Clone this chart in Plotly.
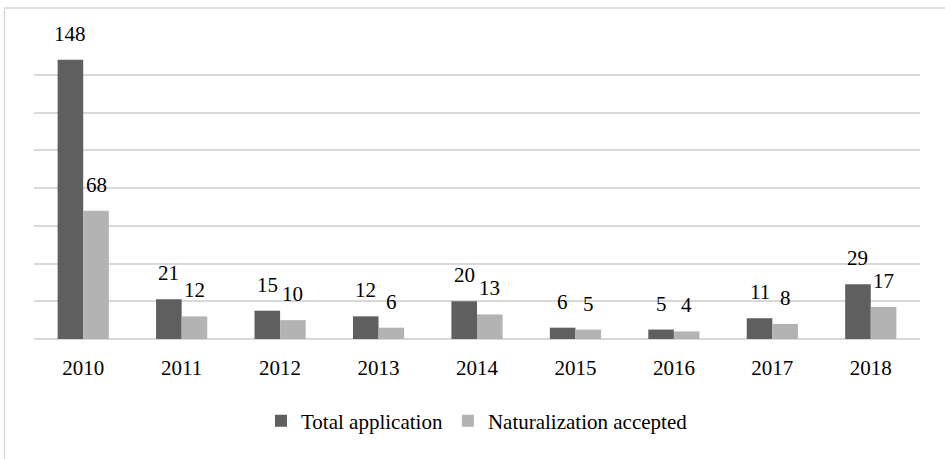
import plotly.graph_objects as go

years = ["2010", "2011", "2012", "2013", "2014", "2015", "2016", "2017", "2018"]
total_application = [148, 21, 15, 12, 20, 6, 5, 11, 29]
naturalization_accepted = [68, 12, 10, 6, 13, 5, 4, 8, 17]

FONT = "Liberation Serif"
DARK = "#5f5f5f"
LIGHT = "#b3b3b3"
GRID = "#d9d9d9"

xpos = list(range(len(years)))

fig = go.Figure()
fig.add_trace(go.Bar(x=xpos, y=total_application, name="Total application",
                     marker=dict(color=DARK, line=dict(width=0))))
fig.add_trace(go.Bar(x=xpos, y=naturalization_accepted, name="Naturalization accepted",
                     marker=dict(color=LIGHT, line=dict(width=0))))

bargap = 0.48
half = (1 - bargap) / 4
for i in xpos:
    fig.add_annotation(x=i - half, y=total_application[i], text=str(total_application[i]),
                       showarrow=False, yanchor="middle", yshift=26,
                       font=dict(family=FONT, size=21, color="black"))
    fig.add_annotation(x=i + half, y=naturalization_accepted[i], text=str(naturalization_accepted[i]),
                       showarrow=False, yanchor="middle", yshift=26,
                       font=dict(family=FONT, size=21, color="black"))

fig.add_shape(type="rect", xref="paper", yref="paper",
              x0=-0.0333, x1=1.2, y0=-0.6, y1=1.0964,
              line=dict(color=GRID, width=1.5), fillcolor="rgba(0,0,0,0)", layer="below")

fig.update_layout(
    width=945, height=459,
    margin=dict(l=34, r=25, t=37, b=119.5),
    paper_bgcolor="white", plot_bgcolor="white",
    barmode="group", bargap=bargap, bargroupgap=0,
    font=dict(family=FONT, size=21, color="black"),
    showlegend=True,
    legend=dict(orientation="h", x=0.5, xanchor="center", y=-0.2715, yanchor="middle",
                font=dict(family=FONT, size=21, color="black"),
                itemwidth=30, traceorder="normal"),
    xaxis=dict(tickmode="array", tickvals=xpos, ticktext=years,
               range=[-0.5, len(years) - 0.5], showgrid=False, zeroline=False,
               showline=False, ticks="", ticklabelstandoff=14,
               tickfont=dict(family=FONT, size=21, color="black")),
    yaxis=dict(range=[0, 160], dtick=20, showticklabels=False, ticks="",
               showgrid=True, gridcolor=GRID, gridwidth=1.5,
               zeroline=True, zerolinecolor=GRID, zerolinewidth=1.5, showline=False),
)

fig.write_html("out.html", config={"displayModeBar": False},
               post_script="document.body.style.margin='0';")
